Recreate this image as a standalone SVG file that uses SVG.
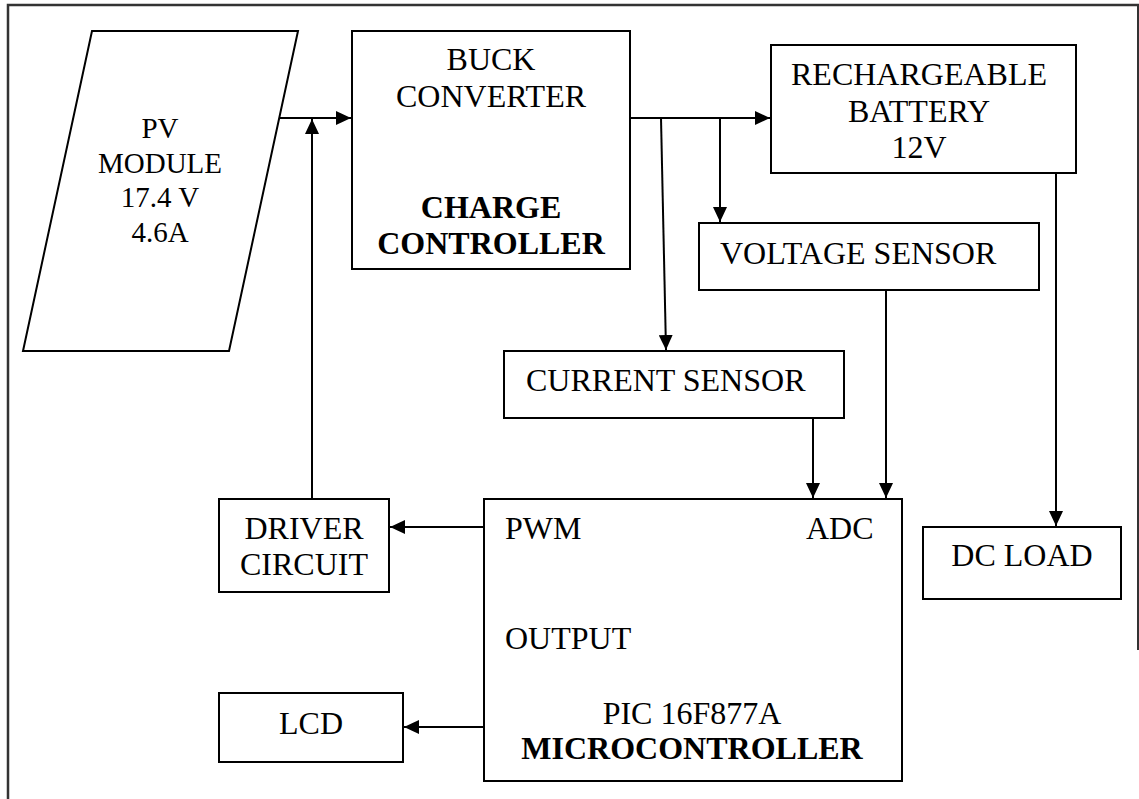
<svg xmlns="http://www.w3.org/2000/svg" width="1139" height="799" viewBox="0 0 1139 799">
<style>
.box{fill:#fff;stroke:#000;stroke-width:2}
.t{font-family:"Liberation Serif","Times New Roman",serif;font-size:32px;fill:#000}
.c{text-anchor:middle}
.b{font-weight:bold}
.pv{font-size:29px}
.ln{fill:none;stroke:#000;stroke-width:2}
</style>
<defs>
<marker id="ah" markerUnits="userSpaceOnUse" markerWidth="15" markerHeight="14" refX="15" refY="7" orient="auto">
<path d="M0,0 L15,7 L0,14 z" fill="#000"/>
</marker>
</defs>
<rect width="1139" height="799" fill="#fff"/>
<g id="frame">
<path d="M8,799 V5 H1139" fill="none" stroke="#333" stroke-width="2.5"/>
<path d="M1138,5 V650" fill="none" stroke="#333" stroke-width="2"/>
</g>
<g id="connectors">
<line class="ln" x1="279" y1="118" x2="351" y2="118" marker-end="url(#ah)"/>
<line class="ln" x1="312" y1="499" x2="312" y2="119" marker-end="url(#ah)"/>
<line class="ln" x1="630" y1="118" x2="770" y2="118" marker-end="url(#ah)"/>
<line class="ln" x1="720" y1="118" x2="720" y2="222" marker-end="url(#ah)"/>
<line class="ln" x1="661" y1="118" x2="666" y2="350" marker-end="url(#ah)"/>
<line class="ln" x1="813" y1="418" x2="813" y2="498" marker-end="url(#ah)"/>
<line class="ln" x1="886" y1="290" x2="886" y2="498" marker-end="url(#ah)"/>
<line class="ln" x1="1056" y1="173" x2="1056" y2="526" marker-end="url(#ah)"/>
<line class="ln" x1="484" y1="527" x2="390" y2="527" marker-end="url(#ah)"/>
<line class="ln" x1="484" y1="727" x2="404" y2="727" marker-end="url(#ah)"/>
</g>
<g id="pv">
<polygon class="box" points="92,31 298,31 229,351 23,351"/>
<text class="t pv c" x="160" y="138">PV</text>
<text class="t pv c" x="160" y="173">MODULE</text>
<text class="t pv c" x="160" y="207">17.4 V</text>
<text class="t pv c" x="160" y="242">4.6A</text>
</g>
<g id="buck">
<rect class="box" x="352" y="31" width="278" height="238"/>
<text class="t c" x="491" y="70">BUCK</text>
<text class="t c" x="491" y="107">CONVERTER</text>
<text class="t c b" x="491" y="218">CHARGE</text>
<text class="t c b" x="491" y="254">CONTROLLER</text>
</g>
<g id="battery">
<rect class="box" x="771" y="45" width="305" height="128"/>
<text class="t c" x="919" y="85">RECHARGEABLE</text>
<text class="t c" x="919" y="122">BATTERY</text>
<text class="t c" x="919" y="158">12V</text>
</g>
<g id="voltage-sensor">
<rect class="box" x="699" y="223" width="340" height="67"/>
<text class="t" x="720" y="264">VOLTAGE SENSOR</text>
</g>
<g id="current-sensor">
<rect class="box" x="504" y="351" width="340" height="67"/>
<text class="t" x="526" y="391">CURRENT SENSOR</text>
</g>
<g id="microcontroller">
<rect class="box" x="484" y="499" width="418" height="282"/>
<text class="t" x="505" y="539">PWM</text>
<text class="t" x="806" y="539">ADC</text>
<text class="t" x="505" y="649">OUTPUT</text>
<text class="t c" x="692" y="724">PIC 16F877A</text>
<text class="t c b" x="692" y="759">MICROCONTROLLER</text>
</g>
<g id="driver">
<rect class="box" x="219" y="499" width="170" height="93"/>
<text class="t c" x="304" y="539">DRIVER</text>
<text class="t c" x="304" y="575">CIRCUIT</text>
</g>
<g id="lcd">
<rect class="box" x="219" y="693" width="184" height="69"/>
<text class="t c" x="311" y="734">LCD</text>
</g>
<g id="dc-load">
<rect class="box" x="923" y="527" width="198" height="72"/>
<text class="t c" x="1022" y="566">DC LOAD</text>
</g>
</svg>
